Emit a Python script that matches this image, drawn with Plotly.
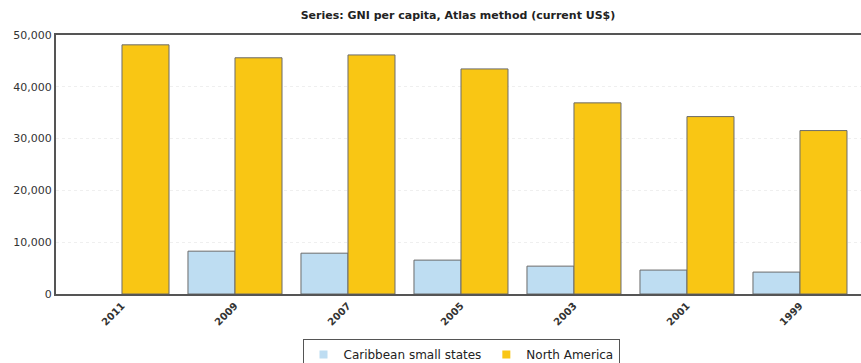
import plotly.graph_objects as go

years = ["2011", "2009", "2007", "2005", "2003", "2001", "1999"]
caribbean = [None, 8270, 7880, 6540, 5380, 4620, 4230]
north_america = [48100, 45600, 46150, 43450, 36900, 34250, 31550]
y_ticks = [0, 10000, 20000, 30000, 40000, 50000]

series = [
    ("Caribbean small states", caribbean, "#BEDDF2"),
    ("North America", north_america, "#F9C614"),
]

fig = go.Figure()
for name, vals, col in series:
    fig.add_trace(go.Bar(
        x=years, y=vals, name=name, showlegend=False,
        marker=dict(color=col, line=dict(color="#6b6b6b", width=1)),
    ))
for name, vals, col in series:
    fig.add_trace(go.Scatter(
        x=[None], y=[None], mode="markers", name=name,
        marker=dict(symbol="square", size=8, color=col, line=dict(width=0)),
    ))

fig.update_layout(
    width=861, height=363,
    margin=dict(l=56, r=0, t=35, b=69),
    paper_bgcolor="white", plot_bgcolor="white",
    barmode="group", bargap=0.168, bargroupgap=0,
    font=dict(family="DejaVu Sans", color="#333333"),
    title=dict(
        text="<b>Series: GNI per capita, Atlas method (current US$)</b>",
        x=458 / 861, xanchor="center", y=1 - 15 / 363, yanchor="middle",
        yref="container", font=dict(size=11, color="#222222"),
    ),
    showlegend=True,
    legend=dict(
        orientation="h", xref="container", x=461 / 861, xanchor="center",
        yref="container", y=1 - 339 / 363, yanchor="top",
        bordercolor="#555555", borderwidth=1, font=dict(size=12, color="#222222"),
        itemwidth=30, traceorder="normal",
    ),
    xaxis=dict(
        type="category", range=[-0.584, 6.54], automargin=False,
        showline=True, linecolor="#555555", linewidth=2, mirror=True,
        tickangle=-45, tickfont=dict(size=10, color="#333333", family="DejaVu Sans"),
        ticks="", showgrid=False,
    ),
    yaxis=dict(
        range=[0, 50000], tickvals=y_ticks, tickformat=",d", automargin=False,
        showline=True, linecolor="#555555", linewidth=2,
        showgrid=True, gridcolor="#efefef", griddash="dot", gridwidth=1,
        ticks="", tickfont=dict(size=11, color="#333333"),
        zeroline=False,
    ),
)
fig.update_xaxes(tickprefix="<b>", ticksuffix="</b>")
fig.update_yaxes(tickprefix="<b>", ticksuffix="</b>")

fig.write_html("out.html")
